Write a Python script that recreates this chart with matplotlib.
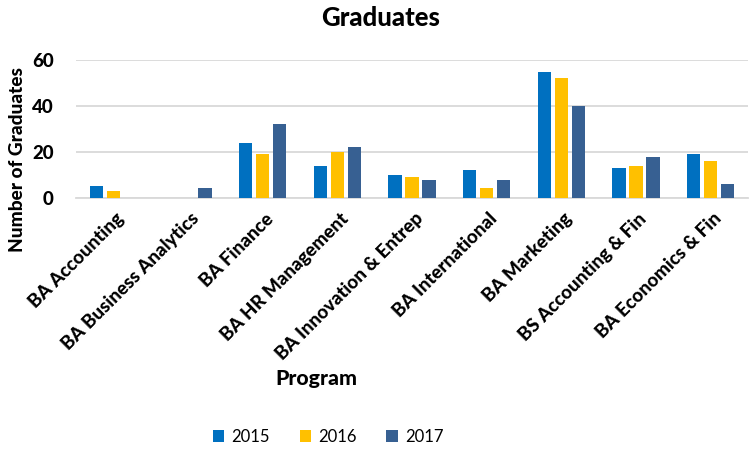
import matplotlib
matplotlib.use("Agg")
import matplotlib.pyplot as plt
import matplotlib.transforms as mtransforms
import numpy as np

programs = ["BA Accounting", "BA Business Analytics", "BA Finance", "BA HR Management",
            "BA Innovation & Entrep", "BA International", "BA Marketing",
            "BS Accounting & Fin", "BA Economics & Fin"]
years = ["2015", "2016", "2017"]
v2015 = [5, 0, 24, 14, 10, 12, 55, 13, 19]
v2016 = [3, 0, 19, 20, 9, 4.5, 52, 14, 16]
v2017 = [0, 4.5, 32, 22, 8, 8, 40, 18, 6]
yticks = [0, 20, 40, 60]

colors = ["#0070C0", "#FFC000", "#376092"]

plt.rcParams['font.family'] = ['Lato', 'DejaVu Sans']
BW = 'black'

W, H = 754, 449
fig = plt.figure(figsize=(W / 100, H / 100), dpi=100)
left, right, top, bottom = 76, 748, 60, 198
ax = fig.add_axes([left / W, 1 - bottom / H, (right - left) / W, (bottom - top) / H])

x = np.arange(len(programs))
off = 0.227
wid = 0.18
for i, (vals, c, lab) in enumerate(zip([v2015, v2016, v2017], colors, years)):
    ax.bar(x + (i - 1) * off, vals, width=wid, color=c, label=lab, zorder=3)

ax.set_xlim(-0.5, len(programs) - 0.5)
ax.set_ylim(0, 60)
ax.set_yticks(yticks)
ax.set_yticklabels([str(t) for t in yticks], fontsize=13.5, fontweight=BW)
ax.yaxis.grid(True, color='#D9D9D9', linewidth=1.3, zorder=0)
ax.set_axisbelow(True)
for s in ['top', 'right', 'left']:
    ax.spines[s].set_visible(False)
ax.spines['bottom'].set_color('#D9D9D9')
ax.spines['bottom'].set_linewidth(1.3)
ax.tick_params(axis='both', length=0)
ax.tick_params(axis='y', pad=16)
ax.set_xticks(x)
ax.set_xticklabels(programs, rotation=45, ha='right', va='top', rotation_mode='anchor',
                   fontsize=13.5, fontweight=BW)
ax.tick_params(axis='x', pad=5)
shift = mtransforms.ScaledTranslation(2 / 100, -5 / 100, fig.dpi_scale_trans)
for lbl in ax.get_xticklabels():
    lbl.set_transform(lbl.get_transform() + shift)

fig.text(381 / W, 1 - 18 / H, "Graduates", ha='center', va='center',
         fontsize=18.5, fontweight=BW)
fig.text(18 / W, 1 - 160 / H, "Number of Graduates", rotation=90, ha='center',
         va='center', fontsize=13.7, fontweight=BW)
fig.text(316 / W, 1 - 378 / H, "Program", ha='center', va='center',
         fontsize=15.3, fontweight=BW)

handles, labels = ax.get_legend_handles_labels()
fig.legend(handles, labels, loc='center', bbox_to_anchor=(328 / W, 1 - 437 / H),
           ncol=3, frameon=False, fontsize=12, handlelength=0.7, handleheight=0.7,
           columnspacing=1.8, handletextpad=0.4)

fig.savefig("out.png", dpi=100)
